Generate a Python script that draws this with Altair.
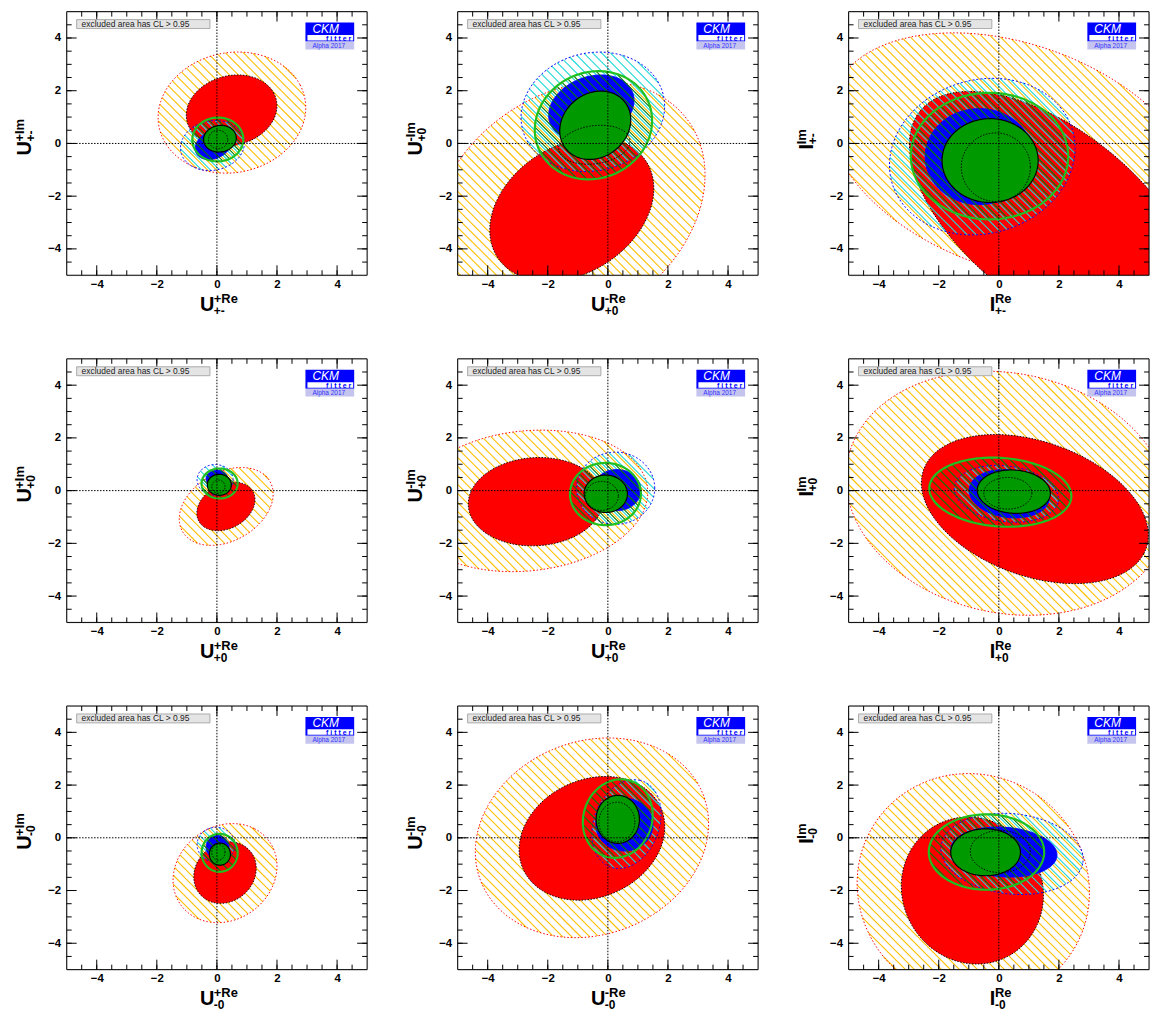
import math
import numpy as np
import pandas as pd
import altair as alt

# ---------------- layout constants ----------------
W, H = 302, 265
DOMAIN = [-5, 5]

# ---------------- data ----------------
MAJOR_TICKS = [-4, -2, 0, 2, 4]
MINOR_TICKS = [-4.5, -4, -3.5, -3, -2.5, -2, -1.5, -1, -0.5, 0, 0.5, 1, 1.5, 2, 2.5, 3, 3.5, 4, 4.5]

# panel order: top-left, top-middle, top-right, middle-left, ..., bottom-right
X_BASE = ["U", "U", "I", "U", "U", "I", "U", "U", "I"]
X_SUP = ["+Re", "-Re", "Re", "+Re", "-Re", "Re", "+Re", "-Re", "Re"]
Y_SUP = ["+Im", "-Im", "Im", "+Im", "-Im", "Im", "+Im", "-Im", "Im"]
SUBS = ["+-", "+0", "+-", "+0", "+0", "+0", "-0", "-0", "-0"]

LEGEND_TEXT = "excluded area has CL > 0.95"
LOGO_TEXT = ["CKM", "f i t t e r", "Alpha 2017"]

# ellipse contours: (centre x, centre y, semi-axis a, semi-axis b, angle deg)
RED_OUTER = [(0.5, 1.17, 2.5, 2.25, 25), (-1.3, -2.4, 5.2, 4.0, 50), (0.5, -0.5, 6.5, 4.2, -25),
             (0.31, -0.6, 1.75, 1.25, 40), (-2.7, -0.39, 4.05, 2.65, 8), (0.3, -0.1, 5.5, 4.5, -20),
             (0.27, -1.34, 1.95, 1.65, 60), (-0.53, 0.0, 4.1, 3.55, 40), (-0.85, -1.9, 4.35, 3.85, 100)]
RED_INNER = [(0.49, 1.25, 1.55, 1.3, 25), (-1.2, -2.5, 3.1, 2.3, 45), (1.8, -2.8, 6.0, 3.1, -45),
             (0.3, -0.6, 1.07, 0.8, 40), (-2.4, -0.42, 2.25, 1.67, 5), (1.2, -0.7, 4.0, 2.5, -25),
             (0.27, -1.32, 1.2, 1.0, 65), (-0.53, -0.02, 2.6, 2.15, 40), (-0.88, -2.0, 2.8, 2.35, 100)]
BLUE_OUTER = [(-0.15, -0.08, 1.08, 0.93, 20), (-0.5, 1.2, 2.45, 2.2, 30), (-0.55, -0.5, 3.2, 2.85, 35),
              (-0.06, 0.41, 0.6, 0.58, 0), (0.26, 0.09, 1.3, 1.37, 0), (0.25, -0.12, 1.75, 1.05, -10),
              (-0.03, -0.26, 0.63, 0.66, 0), (0.62, 0.52, 1.72, 1.1, 75), (0.44, -0.61, 2.38, 1.52, -8)]
BLUE_INNER = [(-0.12, -0.06, 0.65, 0.5, 35), (-0.55, 1.35, 1.5, 1.15, 30), (-0.65, -0.5, 1.8, 1.82, 0),
              (0.0, 0.45, 0.36, 0.33, 0), (0.3, 0.02, 0.8, 0.78, 0), (0.35, -0.12, 1.35, 0.9, -10),
              (0.02, -0.35, 0.38, 0.44, 0), (0.55, 0.5, 0.95, 1.0, 0), (0.17, -0.54, 1.77, 0.94, -5)]
GREEN_OUTER = [(0.03, 0.15, 0.85, 0.83, 15), (-0.48, 0.69, 2.1, 1.9, 60), (-0.31, -0.48, 2.62, 2.4, 0),
               (0.09, 0.27, 0.6, 0.57, 0), (-0.08, -0.13, 1.18, 1.18, 0), (0.05, -0.06, 2.37, 1.3, -5),
               (0.09, -0.57, 0.6, 0.72, 0), (0.33, 0.73, 1.5, 1.15, 80), (-0.41, -0.54, 1.92, 1.43, 0)]
GREEN_INNER = [(0.1, 0.18, 0.55, 0.5, 20), (-0.42, 0.69, 1.35, 1.12, 60), (-0.29, -0.65, 1.6, 1.59, 0),
               (0.08, 0.22, 0.4, 0.4, 0), (-0.07, -0.12, 0.72, 0.71, 0), (0.5, -0.04, 1.22, 0.82, -5),
               (0.1, -0.62, 0.35, 0.42, 0), (0.33, 0.7, 0.72, 0.91, 0), (-0.44, -0.55, 1.16, 0.89, 0)]
DOTTED_INNER = [(0.04, 0.15, 0.32, 0.35, 0), (-0.45, -0.05, 1.2, 0.72, 10), (-0.1, -0.9, 1.15, 1.3, 0),
                (0.05, 0.15, 0.22, 0.25, 0), (-0.2, -0.2, 0.55, 0.55, 0), (0.3, -0.1, 0.8, 0.6, 0),
                (0.05, -0.55, 0.22, 0.3, 0), (0.3, 0.6, 0.6, 0.75, 0), (0.05, -0.52, 1.0, 0.8, 0)]

# ---------------- styles ----------------
C_RED = "#ff0000"
C_ORANGE = "#ffbf00"
C_BLUE = "#0000ff"
C_CYAN = "#20d8d8"
C_GREEN_FILL = "#009900"
C_GREEN_RING = "#1fc01f"
C_GREEN_HATCH = "#007a00"
FONT = "Liberation Sans"

XS = alt.Scale(domain=DOMAIN, nice=False, zero=False)
YS = alt.Scale(domain=DOMAIN, nice=False, zero=False)

AXIS_X = alt.Axis(values=MAJOR_TICKS, title=None, grid=False, ticks=False, domain=False,
                  labelFont=FONT, labelFontWeight="bold", labelFontSize=11.5,
                  labelColor="black", labelPadding=3, labelFlush=False)
AXIS_Y = alt.Axis(values=MAJOR_TICKS, title=None, grid=False, ticks=False, domain=False,
                  labelFont=FONT, labelFontWeight="bold", labelFontSize=11.5,
                  labelColor="black", labelPadding=6, labelFlush=False)


def ellipse_points(p, n=200):
    cx, cy, a, b, deg = p
    th = math.radians(deg)
    t = np.linspace(0, 2 * np.pi, n, endpoint=False)
    x = cx + a * np.cos(t) * math.cos(th) - b * np.sin(t) * math.sin(th)
    y = cy + a * np.cos(t) * math.sin(th) + b * np.sin(t) * math.cos(th)
    return pd.DataFrame({"x": np.round(x, 4), "y": np.round(y, 4), "i": np.arange(n)})


def hatch_segments(p, spacing=6.4, phase=0.0):
    """45 degree (screen) hatch lines clipped to the ellipse p."""
    cx, cy, a, b, deg = p
    th = math.radians(deg)
    sx, sy = W / 10.0, H / 10.0
    A = a * (sx * math.cos(th) + sy * math.sin(th))
    B = b * (-sx * math.sin(th) + sy * math.cos(th))
    R = math.hypot(A, B)
    phi = math.atan2(B, A)
    kc = sx * cx + sy * cy
    step = spacing * math.sqrt(2)
    j0 = math.ceil((kc - R) / step - phase)
    j1 = math.floor((kc + R) / step - phase)
    rows = []
    for j in range(j0, j1 + 1):
        k = (j + phase) * step
        c = (k - kc) / R
        if abs(c) >= 1:
            continue
        d = math.acos(c)
        pts = []
        for s in (phi - d, phi + d):
            u, v = a * math.cos(s), b * math.sin(s)
            pts.append((cx + u * math.cos(th) - v * math.sin(th),
                        cy + u * math.sin(th) + v * math.cos(th)))
        rows.append({"x": round(pts[0][0], 4), "y": round(pts[0][1], 4),
                     "x2": round(pts[1][0], 4), "y2": round(pts[1][1], 4)})
    return pd.DataFrame(rows, columns=["x", "y", "x2", "y2"])


def xenc(f):
    return alt.X(f, type="quantitative", scale=XS, axis=AXIS_X)


def yenc(f):
    return alt.Y(f, type="quantitative", scale=YS, axis=AXIS_Y)


def hatch_layer(p, color, phase):
    df = hatch_segments(p, phase=phase)
    return alt.Chart(df).mark_rule(clip=True, color=color, strokeWidth=1.1).encode(
        x=xenc("x"), y=yenc("y"), x2=alt.X2("x2"), y2=alt.Y2("y2"))


def contour_layer(p, fill=None, stroke="black", dash=None, sw=1.0):
    mk = dict(clip=True, interpolate="linear-closed", stroke=stroke, strokeWidth=sw)
    if fill is not None:
        mk["fill"] = fill
    if dash is not None:
        mk["strokeDash"] = dash
    return alt.Chart(ellipse_points(p)).mark_line(**mk).encode(
        x=xenc("x"), y=yenc("y"), order=alt.Order("i:Q"))


def one_row(**kw):
    return pd.DataFrame({k: [v] for k, v in kw.items()}) if kw else pd.DataFrame({"a": [0]})


def text_layer(s, x, y, size, weight="bold", color="black", angle=0, align="left",
               style="normal", baseline="alphabetic"):
    mk = dict(align=align, baseline=baseline, font=FONT, fontWeight=weight, fontSize=size,
              color=color, fontStyle=style)
    if angle:
        mk["angle"] = angle
    return alt.Chart(one_row(t=s)).mark_text(**mk).encode(
        x=alt.value(x), y=alt.value(y), text="t:N")


def rect_layer(x1, x2, y1, y2, fill, stroke=None, sw=1.0):
    mk = dict(fill=fill, strokeWidth=sw)
    if stroke:
        mk["stroke"] = stroke
    return alt.Chart(one_row()).mark_rect(**mk).encode(
        x=alt.value(x1), x2=alt.value(x2), y=alt.value(y1), y2=alt.value(y2))


MAJOR_DF = pd.DataFrame({"v": MAJOR_TICKS})
MINOR_DF = pd.DataFrame({"v": MINOR_TICKS})
ZERO_DF = pd.DataFrame({"v": [0]})


def tick_layers():
    out = []
    for df, L in ((MAJOR_DF, 10), (MINOR_DF, 5)):
        out.append(alt.Chart(df).mark_rule(color="black", strokeWidth=1).encode(
            y=yenc("v"), x=alt.value(0), x2=alt.value(L)))
        out.append(alt.Chart(df).mark_rule(color="black", strokeWidth=1).encode(
            y=yenc("v"), x=alt.value(W), x2=alt.value(W - L)))
        out.append(alt.Chart(df).mark_rule(color="black", strokeWidth=1).encode(
            x=xenc("v"), y=alt.value(H), y2=alt.value(H - L)))
        out.append(alt.Chart(df).mark_rule(color="black", strokeWidth=1).encode(
            x=xenc("v"), y=alt.value(0), y2=alt.value(L)))
    return out


def panel(i):
    L = []
    # red (orange hatched outer, filled inner)
    L.append(hatch_layer(RED_OUTER[i], C_ORANGE, 0.0))
    L.append(contour_layer(RED_OUTER[i], stroke=C_RED, dash=[1.5, 2]))
    L.append(contour_layer(RED_INNER[i], fill=C_RED, stroke="black", dash=[1.5, 1.5]))
    # blue
    L.append(hatch_layer(BLUE_OUTER[i], C_CYAN, 0.35))
    L.append(contour_layer(BLUE_OUTER[i], stroke=C_BLUE, dash=[2, 2]))
    L.append(contour_layer(BLUE_INNER[i], fill=C_BLUE, stroke=C_BLUE))
    # green
    L.append(hatch_layer(GREEN_OUTER[i], C_GREEN_HATCH, 0.7))
    L.append(contour_layer(GREEN_INNER[i], fill=C_GREEN_FILL, stroke="black", sw=1.2))
    L.append(contour_layer(GREEN_OUTER[i], stroke=C_GREEN_RING, sw=2.2))
    L.append(contour_layer(DOTTED_INNER[i], stroke="black", dash=[1.5, 1.5]))
    # zero lines
    L.append(alt.Chart(ZERO_DF).mark_rule(color="black", strokeDash=[1.5, 1.5]).encode(
        x=xenc("v")))
    L.append(alt.Chart(ZERO_DF).mark_rule(color="black", strokeDash=[1.5, 1.5]).encode(
        y=yenc("v")))
    L.extend(tick_layers())
    # frame
    L.append(alt.Chart(one_row()).mark_rect(fill="transparent", stroke="black", strokeWidth=1).encode(
        x=alt.value(0), x2=alt.value(W), y=alt.value(0), y2=alt.value(H)))
    # legend box
    L.append(rect_layer(10, 144, 8, 17, "#e4e4e4", "#9a9a9a", 0.8))
    L.append(text_layer(LEGEND_TEXT, 15, 15.5, 8.5, weight="normal", color="#222222"))
    # CKMfitter logo
    L.append(rect_layer(240, 289, 11, 30, C_BLUE))
    L.append(rect_layer(242, 288, 23.5, 29, "white"))
    L.append(rect_layer(240, 289, 30, 38, "#c4c4ee"))
    L.append(text_layer(LOGO_TEXT[0], 247, 21, 12, weight="normal", color="white", style="italic"))
    L.append(text_layer(LOGO_TEXT[1], 286, 29.5, 7, color=C_BLUE, align="right"))
    L.append(text_layer(LOGO_TEXT[2], 247, 36.5, 6.5, weight="normal", color="#3333ff"))
    # axis titles (base letter + superscript + subscript)
    is_u = X_BASE[i] == "U"
    adv = 14.4 if is_u else 5.6
    bx = W / 2 + (-17 if is_u else -9)
    L.append(text_layer(X_BASE[i], bx, H + 36, 20))
    L.append(text_layer(X_SUP[i], bx + adv - 0.5, H + 28, 13))
    L.append(text_layer(SUBS[i], bx + adv - 0.5, H + 40, 12))
    by = H / 2 + (12 if is_u else 6)
    L.append(text_layer(X_BASE[i], -36, by, 20, angle=270))
    L.append(text_layer(Y_SUP[i], -43, by - adv + 0.5, 13, angle=270))
    L.append(text_layer(SUBS[i], -32, by - adv + 0.5, 12, angle=270))
    return alt.layer(*L).properties(width=W, height=H)


chart = alt.concat(*[panel(i) for i in range(9)], columns=3,
                   spacing=alt.RowColnumber(row=84, column=91), bounds="flush").properties(
    padding={"left": 5, "top": 0, "right": 5, "bottom": 5}
).configure_view(stroke=None).configure(background="white")

chart.save("out.html", embed_options={"renderer": "svg", "actions": False})
